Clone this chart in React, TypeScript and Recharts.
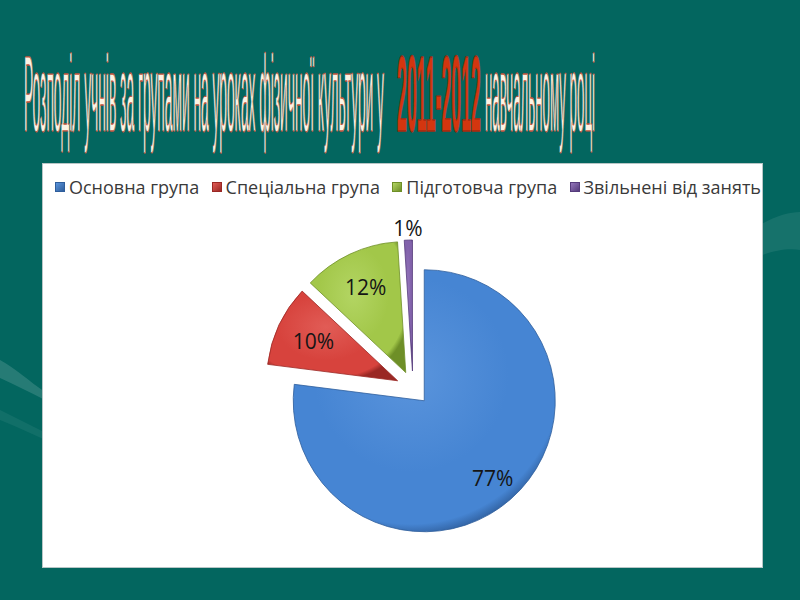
import React from 'react';
import { PieChart, Pie, Cell, Sector, Legend } from 'recharts';

const categories = ['Основна група', 'Спеціальна група', 'Підготовча група', 'Звільнені від занять'];
const shares = [77, 10, 12, 1];
const percentLabels = ['77%', '10%', '12%', '1%'];
const titleParts = ['Розподіл учнів за групами  на уроках фізичної культури у', '2011-2012', 'навчальному році'];

const chartData = categories.map((name, i) => ({ name, value: shares[i] }));

const PALETTE = [
  { base: '#4685d3', light: '#5a94dc', dark: '#2f5e9c' },
  { base: '#d7433d', light: '#e15c56', dark: '#9a2824' },
  { base: '#a2c749', light: '#b3d563', dark: '#6e8f27' },
  { base: '#8262ab', light: '#9476bb', dark: '#553b7c' },
];

const RAD = Math.PI / 180;
const EXPLODE = 17;
const LABEL_RATIO = [0.79, 0.71, 0.72, 1.09];
const TITLE_VSCALE = 7.7;

function renderSlice(props: any) {
  const { cx, cy, midAngle, innerRadius, outerRadius, startAngle, endAngle, index } = props;
  const ux = Math.cos(-midAngle * RAD);
  const uy = Math.sin(-midAngle * RAD);
  const sx = cx + EXPLODE * ux;
  const sy = cy + EXPLODE * uy;
  const lr = outerRadius * LABEL_RATIO[index];
  const lx = sx + lr * ux;
  const ly = sy + lr * uy;
  return (
    <g key={`slice-${index}`}>
      <Sector
        cx={sx}
        cy={sy}
        innerRadius={innerRadius}
        outerRadius={outerRadius}
        startAngle={startAngle}
        endAngle={endAngle}
        fill={`url(#sliceGrad${index})`}
        stroke={PALETTE[index].dark}
        strokeWidth={0.8}
      />
      <text
        x={lx}
        y={ly}
        textAnchor="middle"
        dominantBaseline="central"
        fontFamily='"Open Sans", "Noto Sans", sans-serif'
        fontSize={21}
        fill="#151515"
      >
        {percentLabels[index]}
      </text>
    </g>
  );
}

const renderLegend = () => (
  <div
    style={{
      display: 'flex',
      justifyContent: 'space-between',
      alignItems: 'center',
      width: 706,
      fontFamily: '"Open Sans", "Noto Sans", sans-serif',
      fontSize: 18,
      color: '#3a3a3a',
      lineHeight: '22px',
    }}
  >
    {categories.map((c, i) => (
      <span key={c} style={{ display: 'flex', alignItems: 'center', whiteSpace: 'nowrap' }}>
        <span
          style={{
            display: 'inline-block',
            width: 8,
            height: 8,
            marginRight: 4,
            background: `linear-gradient(135deg, ${PALETTE[i].light}, ${PALETTE[i].dark})`,
            border: `1px solid ${PALETTE[i].dark}`,
          }}
        />
        {c}
      </span>
    ))}
  </div>
);

export default function App() {
  return (
    <div
      style={{
        position: 'fixed',
        left: 0,
        top: 0,
        width: 800,
        height: 600,
        overflow: 'hidden',
        background: '#03665f',
      }}
    >
      <svg width={800} height={600} style={{ position: 'absolute', left: 0, top: 0 }}>
        <path d="M0,360 C15,368 30,382 45,392 L45,400 C30,392 15,385 0,378 Z" fill="rgba(255,255,255,0.14)" />
        <path d="M0,410 C20,420 40,430 60,440 L60,446 C40,438 20,428 0,420 Z" fill="rgba(255,255,255,0.06)" />
        <path d="M760,225 C775,216 790,212 800,212 L800,250 C790,248 775,250 760,256 Z" fill="rgba(255,255,255,0.08)" />
        <g
          transform={`translate(0,131) scale(1,${TITLE_VSCALE})`}
          fontFamily='"Liberation Sans Narrow", "Liberation Sans", sans-serif'
          fontSize={14}
          strokeLinejoin="round"
        >
          <text
            x={24}
            y={0}
            textLength={360}
            lengthAdjust="spacingAndGlyphs"
            fill="#fbf3e4"
            stroke="#c0533d"
            strokeWidth={0.9}
            vectorEffect="non-scaling-stroke"
          >
            {titleParts[0]}
          </text>
          <text
            x={397}
            y={0}
            textLength={84}
            lengthAdjust="spacingAndGlyphs"
            fill="#d3360f"
            stroke="#a32a10"
            strokeWidth={0.9}
            vectorEffect="non-scaling-stroke"
            fontWeight="bold"
          >
            {titleParts[1]}
          </text>
          <text
            x={485}
            y={0}
            textLength={110}
            lengthAdjust="spacingAndGlyphs"
            fill="#fbf3e4"
            stroke="#c0533d"
            strokeWidth={0.9}
            vectorEffect="non-scaling-stroke"
          >
            {titleParts[2]}
          </text>
        </g>
      </svg>
      <div
        style={{
          position: 'absolute',
          left: 42,
          top: 163,
          width: 719,
          height: 403,
          background: '#ffffff',
          border: '1px solid #b8c6c6',
        }}
      >
        <PieChart width={719} height={403} margin={{ top: 0, right: 0, bottom: 0, left: 0 }}>
          <defs>
            {PALETTE.map((p, i) => (
              <radialGradient key={i} id={`sliceGrad${i}`} cx="45%" cy="40%" r="62%">
                <stop offset="0%" stopColor={p.light} />
                <stop offset="60%" stopColor={p.base} />
                <stop offset="92%" stopColor={p.base} />
                <stop offset="100%" stopColor={p.dark} />
              </radialGradient>
            ))}
          </defs>
          <Legend
            verticalAlign="middle"
            layout="horizontal"
            content={renderLegend}
            wrapperStyle={{ top: 12, left: 12, width: 706 }}
          />
          <Pie
            data={chartData}
            dataKey="value"
            nameKey="name"
            cx={370}
            cy={224}
            innerRadius={0}
            outerRadius={131}
            startAngle={90}
            endAngle={-270}
            isAnimationActive={false}
            label={renderSlice}
            labelLine={false}
            stroke="none"
          >
            {chartData.map((d) => (
              <Cell key={d.name} fill="transparent" stroke="none" />
            ))}
          </Pie>
        </PieChart>
      </div>
    </div>
  );
}
